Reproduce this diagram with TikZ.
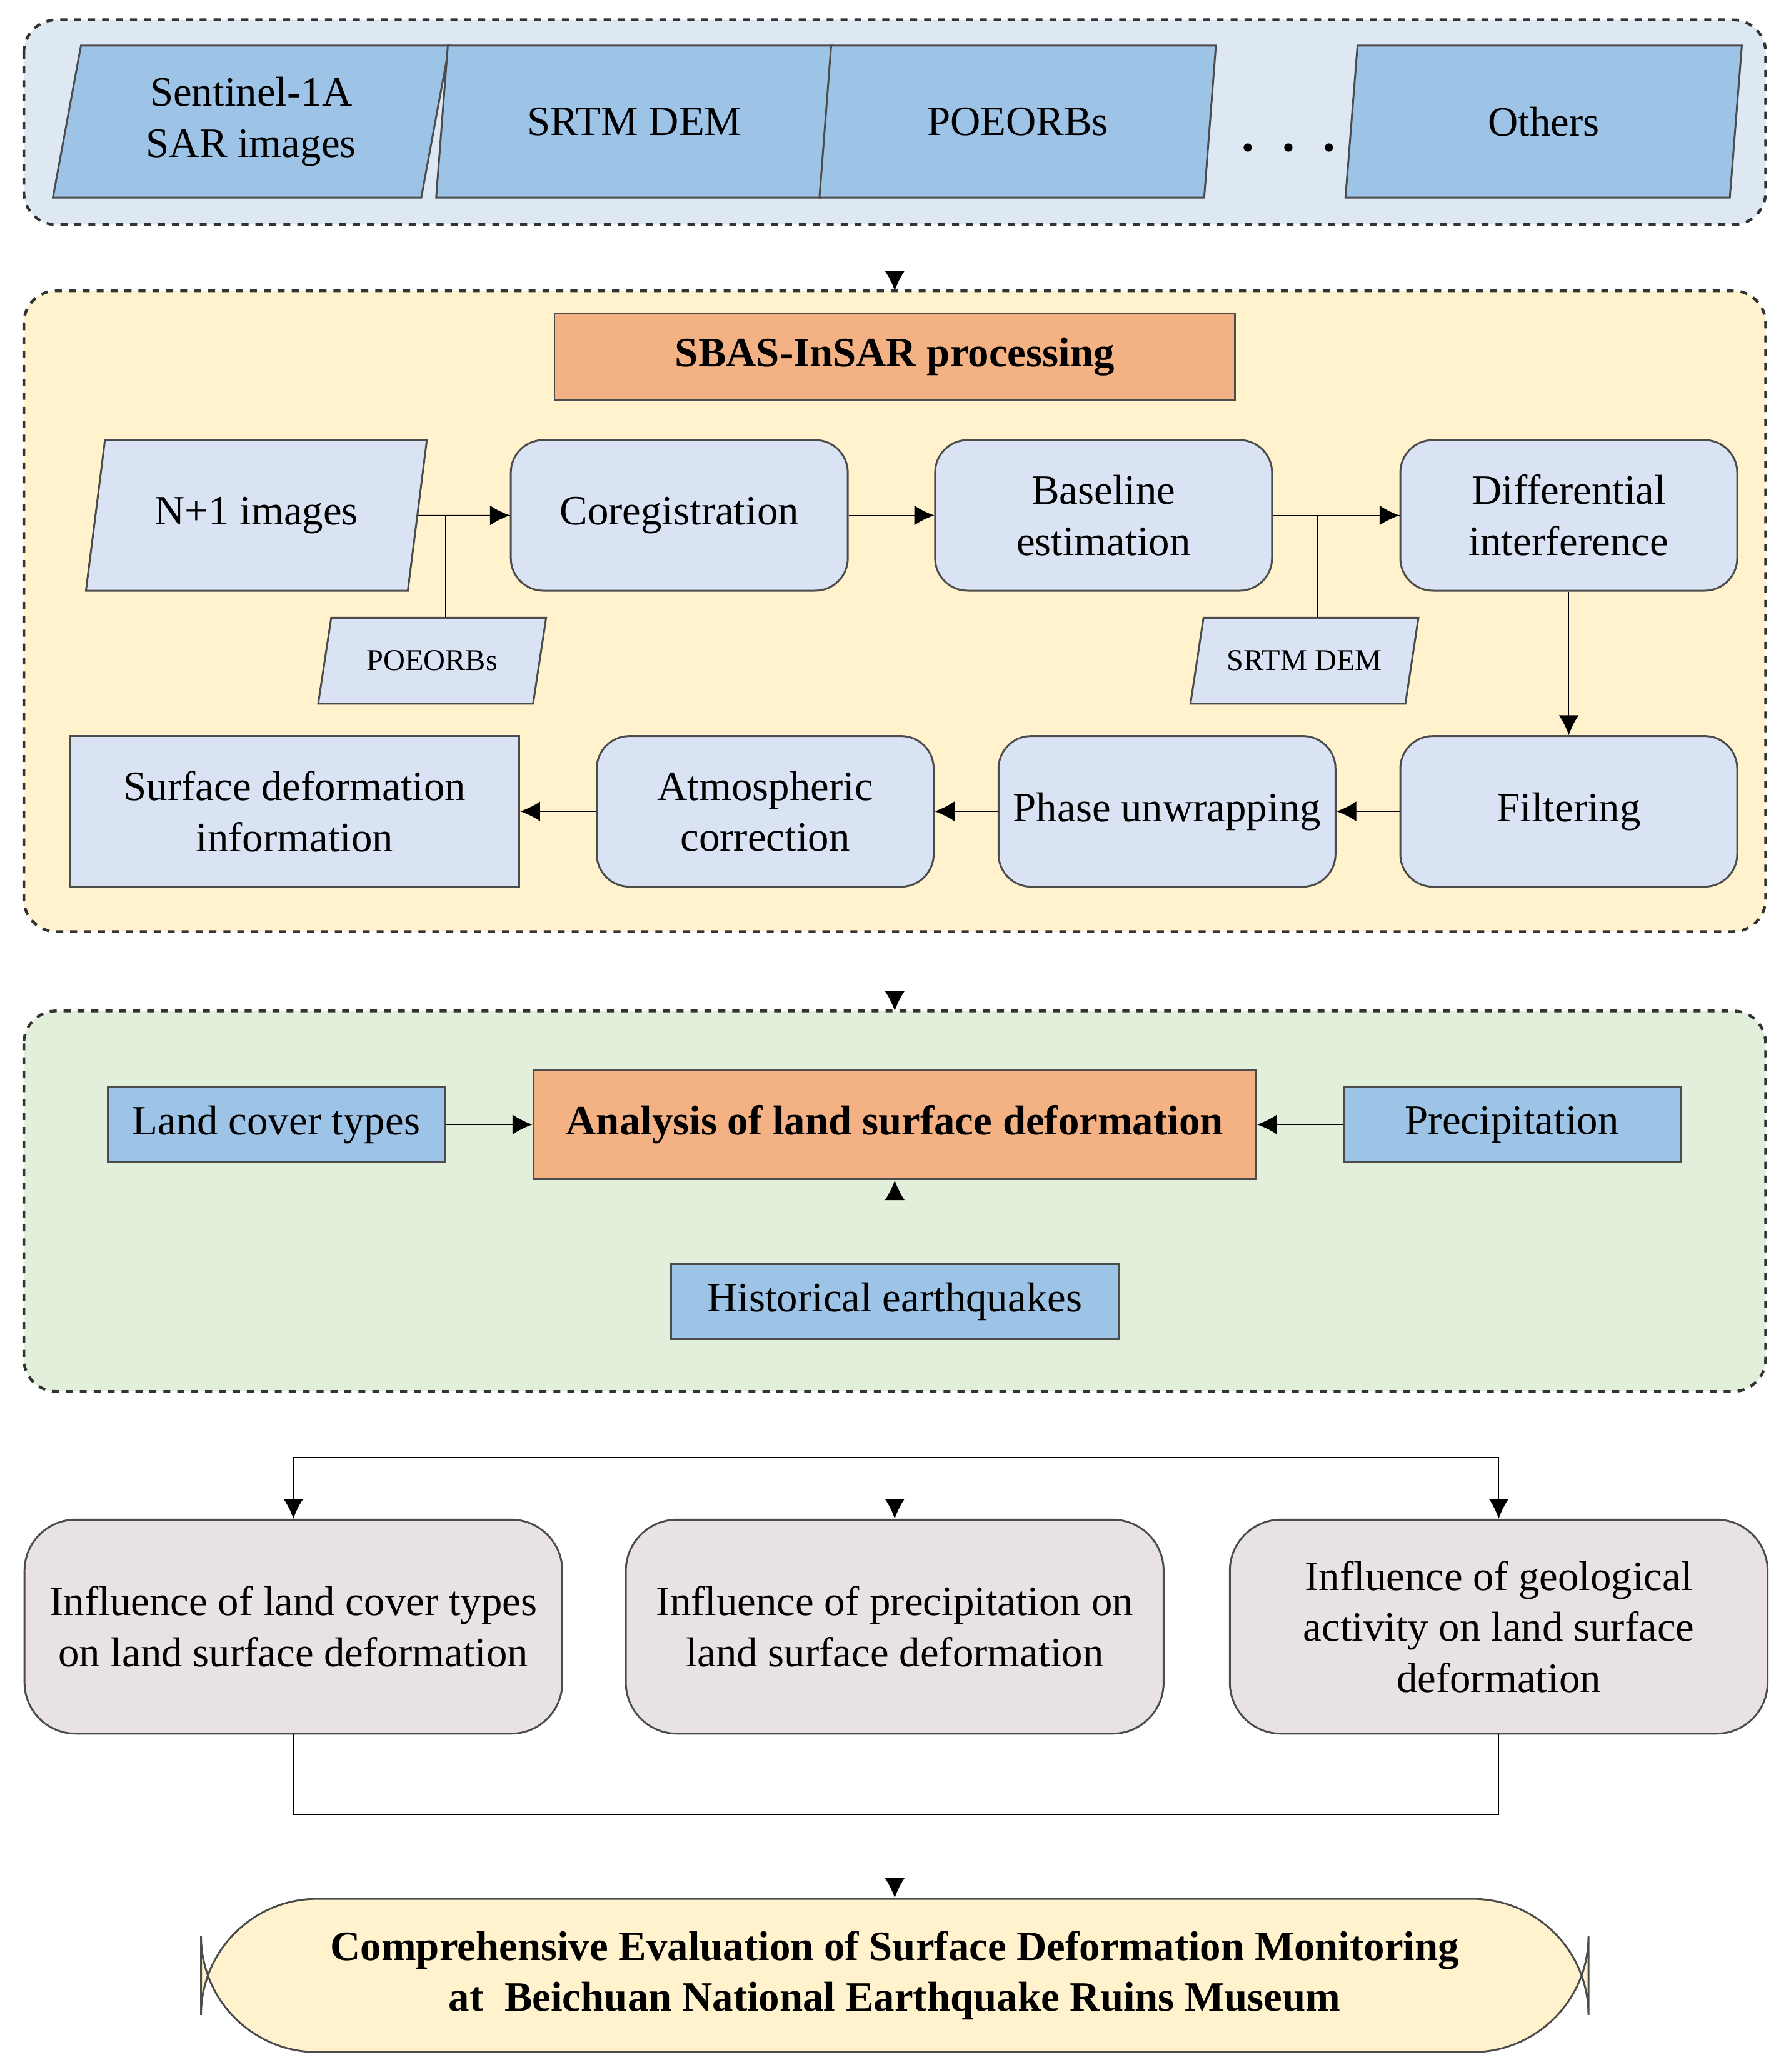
\documentclass[tikz,border=0pt]{standalone}
\usepackage{fontspec}
\setmainfont{Liberation Serif}
\usetikzlibrary{arrows.meta,positioning,shapes.geometric}
\definecolor{panelBlue}{HTML}{DEE8F3}
\definecolor{panelYellow}{HTML}{FFF2CC}
\definecolor{panelGreen}{HTML}{E2EFDA}
\definecolor{dataBlue}{HTML}{9DC3E6}
\definecolor{stepBlue}{HTML}{DAE3F3}
\definecolor{headOrange}{HTML}{F4B183}
\definecolor{effectGrey}{HTML}{E8E2E2}
\tikzset{%
  >={Latex[width=3mm,length=3mm]},
  % Specifications for style of nodes:
           panel/.style = {draw=black!80, dashed, line width=1.2pt, rounded corners=14pt},
            base/.style = {draw=black!70, line width=0.8pt, text centered, align=center,
                           font=\fontsize{18}{22}\selectfont},
      dataSlant/.style = {base, trapezium, trapezium left angle=75, trapezium right angle=105,
                           trapezium stretches body, fill=dataBlue,
                           minimum width=6cm, minimum height=2.3cm},
      smallSlant/.style = {base, trapezium, trapezium left angle=70, trapezium right angle=110,
                           trapezium stretches body, fill=stepBlue,
                           minimum width=3.45cm, minimum height=1.3cm,
                           font=\fontsize{13}{16}\selectfont},
         procStep/.style = {base, rounded corners=14pt, fill=stepBlue,
                           minimum width=5.1cm, minimum height=2.28cm},
          factor/.style = {base, fill=dataBlue, minimum width=5.1cm, minimum height=1.14cm},
         heading/.style = {base, fill=headOrange, font=\fontsize{18}{22}\selectfont\bfseries},
          effect/.style = {base, rounded corners=22pt, fill=effectGrey,
                           minimum width=8.14cm, minimum height=3.24cm},
}
\begin{document}
\begin{tikzpicture}[x=0.02cm, y=-0.02cm]
\useasboundingbox (0,0) rectangle (1355,1568);

% panels
\draw[panel, fill=panelBlue]   (18,15)  rectangle (1336,170);
\draw[panel, fill=panelYellow] (18,220) rectangle (1336,705);
\draw[panel, fill=panelGreen]  (18,765) rectangle (1336,1053);
\coordinate (P1s) at (677,170);
\coordinate (P2n) at (677,220);
\coordinate (P2s) at (677,705);
\coordinate (P3n) at (677,765);
\coordinate (P3s) at (677,1053);

% input data
\node (S1)     [dataSlant] at (190,92)  {Sentinel-1A\\SAR images};
\node (DEM)    [dataSlant] at (480,92)  {SRTM DEM};
\node (ORB)    [dataSlant] at (770,92)  {POEORBs};
\node (Dots)   [font=\fontsize{30}{30}\selectfont] at (975,112) {. . .};
\node (Others) [dataSlant] at (1168,92) {Others};

% SBAS-InSAR processing
\node (SBAS)  [heading, minimum width=10.3cm, minimum height=1.32cm] at (677,270) {SBAS-InSAR processing};
\node (Img)   [smallSlant, minimum width=5.16cm, minimum height=2.28cm,
               font=\fontsize{18}{22}\selectfont] at (194,390) {N+1 images};
\node (Coreg) [procStep] at (514,390) {Coregistration};
\node (Base)  [procStep] at (835,390) {Baseline\\estimation};
\node (Diff)  [procStep] at (1187,390) {Differential\\interference};
\node (Orb)   [smallSlant] at (327,500) {POEORBs};
\node (Dem)   [smallSlant] at (987,500) {SRTM DEM};
\node (Filt)  [procStep] at (1187,614) {Filtering};
\node (Unw)   [procStep] at (883,614) {Phase unwrapping};
\node (Atm)   [procStep] at (579,614) {Atmospheric\\correction};
\node (Def)   [base, fill=stepBlue, minimum width=6.8cm, minimum height=2.28cm] at (223,614) {Surface deformation\\information};

% analysis
\node (Ana)   [heading, minimum width=10.94cm, minimum height=1.66cm] at (677,851) {Analysis of land surface deformation};
\node (Land)  [factor] at (209,851) {Land cover types};
\node (Prec)  [factor] at (1144,851) {Precipitation};
\node (Hist)  [factor, minimum width=6.78cm] at (677,985) {Historical earthquakes};

% influences
\node (ELand) [effect] at (222,1231) {Influence of land cover types\\on land surface deformation};
\node (EPrec) [effect] at (677,1231) {Influence of precipitation on\\land surface deformation};
\node (EGeo)  [effect] at (1134,1231) {Influence of geological\\activity on land surface\\deformation};
\node (Eval)  [base, rounded corners=50pt, fill=panelYellow, minimum width=21cm, minimum height=2.32cm,
               font=\fontsize{18}{22}\selectfont\bfseries] at (677,1495)
              {Comprehensive Evaluation of Surface Deformation Monitoring\\at\ \ Beichuan National Earthquake Ruins Museum};

\coordinate (Split) at (677,1103);
\coordinate (Join)  at (677,1373);

\draw[->] (P1s) -- (P2n);
\draw[->] (P2s) -- (P3n);
\draw[->] (Img) -- (Coreg);
\draw     (Orb.north -| 337,0) |- (Coreg.west);
\draw[->] (Coreg) -- (Base);
\draw[->] (Base) -- (Diff);
\draw     (Dem.north -| 997,0) |- (Diff.west);
\draw[->] (Diff) -- (Filt);
\draw[->] (Filt) -- (Unw);
\draw[->] (Unw) -- (Atm);
\draw[->] (Atm) -- (Def);
\draw[->] (Land) -- (Ana);
\draw[->] (Prec) -- (Ana);
\draw[->] (Hist) -- (Ana);
\draw     (P3s) -- (Split);
\draw[->] (Split) -| (ELand.north);
\draw[->] (Split) -- (EPrec.north);
\draw[->] (Split) -| (EGeo.north);
\draw     (ELand.south) |- (Join);
\draw     (EGeo.south) |- (Join);
\draw[->] (EPrec.south) -- (Eval.north);
\end{tikzpicture}
\end{document}
